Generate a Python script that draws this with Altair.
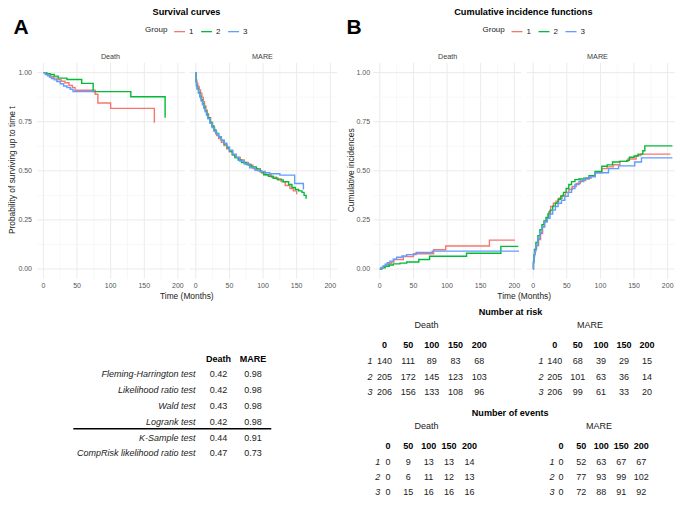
import altair as alt
import pandas as pd

FONT = "Liberation Sans"
GROUPS = ["1", "2", "3"]
COLORS = ["#F8766D", "#00BA38", "#619CFF"]

# ---------------- Panel A, Death (survival) ----------------
a_death_t1 = [0, 3, 7, 11, 15, 20, 26, 32, 38, 43, 47, 77, 81, 100, 165]
a_death_s1 = [1.0, 0.993, 0.986, 0.979, 0.972, 0.964, 0.956, 0.948, 0.935, 0.925, 0.91, 0.89, 0.845, 0.818, 0.745]
a_death_t2 = [0, 5, 10, 16, 22, 35, 57, 74, 130, 181]
a_death_s2 = [1.0, 0.995, 0.99, 0.982, 0.972, 0.965, 0.945, 0.903, 0.877, 0.77]
a_death_t3 = [0, 3, 6, 9, 12, 16, 20, 25, 30, 35, 40, 44, 76]
a_death_s3 = [1.0, 0.99, 0.984, 0.977, 0.97, 0.963, 0.955, 0.943, 0.932, 0.924, 0.915, 0.904, 0.904]

# ---------------- Panel A, MARE (survival) ----------------
a_mare_t1 = [0, 0.5, 1.5, 3, 5, 7, 9, 11, 13, 15, 17, 19, 22, 25, 28, 31, 34, 38, 42, 46, 50, 55, 60, 66,
             72, 78, 85, 92, 98, 104, 112, 120, 127, 133, 140, 145, 150]
a_mare_s1 = [1.0, 0.962, 0.945, 0.93, 0.912, 0.895, 0.875, 0.852, 0.83, 0.808, 0.79, 0.77, 0.745, 0.722,
             0.7, 0.68, 0.664, 0.645, 0.628, 0.612, 0.597, 0.582, 0.568, 0.555, 0.542, 0.528, 0.512, 0.5,
             0.489, 0.48, 0.468, 0.458, 0.445, 0.425, 0.41, 0.398, 0.38]
a_mare_t2 = [0, 0.3, 1, 2, 4, 6, 8, 10, 12, 14, 16, 18, 21, 24, 27, 30, 34, 38, 42, 46, 50, 54, 58, 63, 68,
             75, 82, 90, 96, 101, 108, 115, 122, 130, 138, 143, 148, 153, 158, 161, 164]
a_mare_s2 = [1.0, 0.955, 0.935, 0.92, 0.9, 0.88, 0.862, 0.842, 0.822, 0.805, 0.788, 0.77, 0.748, 0.728,
             0.708, 0.69, 0.672, 0.655, 0.636, 0.618, 0.6, 0.582, 0.568, 0.555, 0.542, 0.532, 0.52, 0.51,
             0.495, 0.48, 0.472, 0.462, 0.454, 0.444, 0.43, 0.415, 0.405, 0.398, 0.39, 0.375, 0.358]
a_mare_t3 = [0, 0.3, 1, 2, 4, 6, 8, 10, 12, 14, 16, 18, 21, 24, 27, 30, 34, 38, 42, 46, 50, 55, 60, 65, 72,
             80, 88, 95, 103, 110, 125, 147, 160]
a_mare_s3 = [1.0, 0.952, 0.93, 0.915, 0.895, 0.875, 0.855, 0.836, 0.818, 0.8, 0.782, 0.765, 0.742, 0.72,
             0.703, 0.688, 0.672, 0.656, 0.64, 0.622, 0.605, 0.585, 0.568, 0.55, 0.535, 0.515, 0.503,
             0.497, 0.49, 0.485, 0.478, 0.435, 0.405]

# ---------------- Panel B, Death (cumulative incidence) ----------------
b_death_t1 = [0, 2, 5, 9, 13, 17, 21, 35, 50, 80, 98, 163, 201]
b_death_c1 = [0, 0.007, 0.014, 0.021, 0.028, 0.036, 0.048, 0.064, 0.078, 0.098, 0.117, 0.147, 0.147]
b_death_t2 = [0, 3, 8, 14, 20, 30, 40, 58, 74, 129, 180, 206]
b_death_c2 = [0, 0.006, 0.014, 0.02, 0.026, 0.03, 0.036, 0.048, 0.065, 0.08, 0.115, 0.115]
b_death_t3 = [0, 2, 5, 8, 11, 15, 20, 25, 33, 40, 54, 78, 207]
b_death_c3 = [0, 0.008, 0.016, 0.024, 0.032, 0.04, 0.05, 0.06, 0.066, 0.073, 0.084, 0.091, 0.091]

# ---------------- Panel B, MARE (cumulative incidence) ----------------
b_mare_t1 = [0, 0.5, 1.5, 3, 5, 8, 11, 14, 17, 20, 23, 26, 30, 34, 38, 43, 48, 53, 58, 64, 70, 78, 86, 92,
             102, 110, 119, 129, 141, 153, 160, 204]
b_mare_c1 = [0, 0.04, 0.075, 0.1, 0.12, 0.15, 0.18, 0.215, 0.24, 0.26, 0.29, 0.318, 0.335, 0.345, 0.36,
             0.375, 0.39, 0.405, 0.42, 0.435, 0.45, 0.462, 0.472, 0.49, 0.511, 0.52, 0.531, 0.548, 0.56,
             0.578, 0.585, 0.585]
b_mare_t2 = [0, 0.3, 1, 2, 4, 7, 10, 13, 16, 19, 22, 25, 29, 33, 37, 41, 45, 49, 53, 57, 62, 68, 75, 83, 92,
             102, 110, 118, 128, 139, 143, 150, 156, 163, 166, 207]
b_mare_c2 = [0, 0.035, 0.07, 0.1, 0.135, 0.17, 0.2, 0.225, 0.245, 0.262, 0.28, 0.3, 0.32, 0.335, 0.355,
             0.372, 0.39, 0.41, 0.43, 0.445, 0.455, 0.458, 0.462, 0.475, 0.497, 0.523, 0.53, 0.545, 0.548,
             0.553, 0.569, 0.575, 0.585, 0.602, 0.627, 0.627]
b_mare_t3 = [0, 0.3, 1, 2, 4, 7, 10, 13, 17, 21, 25, 29, 33, 37, 42, 47, 52, 57, 62, 68, 75, 83, 92, 112,
             127, 151, 161, 207]
b_mare_c3 = [0, 0.03, 0.06, 0.09, 0.12, 0.155, 0.185, 0.215, 0.24, 0.258, 0.28, 0.3, 0.318, 0.335, 0.35,
             0.37, 0.39, 0.41, 0.43, 0.445, 0.458, 0.47, 0.49, 0.511, 0.525, 0.545, 0.566, 0.566]

# ---------------- Axis ticks ----------------
x_major = [0, 50, 100, 150, 200]
x_minor = [25, 75, 125, 175]
y_major = [0.0, 0.25, 0.5, 0.75, 1.0]
y_minor = [0.125, 0.375, 0.625, 0.875]
y_labels = ["0.00", "0.25", "0.50", "0.75", "1.00"]

# ---------------- Test table ----------------
tests = ["Fleming-Harrington test", "Likelihood ratio test", "Wald test", "Logrank test",
         "K-Sample test", "CompRisk likelihood ratio test"]
p_death = [0.42, 0.42, 0.43, 0.42, 0.44, 0.47]
p_mare = [0.98, 0.98, 0.98, 0.98, 0.91, 0.73]

# ---------------- Number at risk / events ----------------
times = [0, 50, 100, 150, 200]
risk_death_1 = [140, 111, 89, 83, 68]
risk_death_2 = [205, 172, 145, 123, 103]
risk_death_3 = [206, 156, 133, 108, 96]
risk_mare_1 = [140, 68, 39, 29, 15]
risk_mare_2 = [205, 101, 63, 36, 14]
risk_mare_3 = [206, 99, 61, 33, 20]
events_death_1 = [0, 9, 13, 13, 14]
events_death_2 = [0, 6, 11, 12, 13]
events_death_3 = [0, 15, 16, 16, 16]
events_mare_1 = [0, 52, 63, 67, 67]
events_mare_2 = [0, 77, 93, 99, 102]
events_mare_3 = [0, 72, 88, 91, 92]

# ================= layout helpers =================
W, H = 667, 488


def X(xr):
    return round((xr - 1.5) * 0.978, 1)


def Y(yr):
    return round((yr - 1.5) * 0.972, 1)


PANEL_W = 137.5  # reference px for 0..200 months
Y_ZERO, Y_ONE = 270, 68
ORIG = {"A_Death": 37.7, "A_MARE": 193.5, "B_Death": 381.7, "B_MARE": 538.5}
GRID_MAJ, GRID_MIN = "#EBEBEB", "#F3F3F3"
TXT = "#222222"
TICK = "#555555"


def xscale(origin):
    return alt.Scale(domain=[0, 200], range=[X(origin), X(origin + PANEL_W)], nice=False, zero=False)


def yscale():
    return alt.Scale(domain=[0, 1], range=[Y(Y_ZERO), Y(Y_ONE)], nice=False, zero=False)


def curve_df(pairs):
    rows = []
    for g, (ts, vs) in zip(GROUPS, pairs):
        for t, v in zip(ts, vs):
            rows.append({"group": g, "time": t, "value": v})
    return pd.DataFrame(rows)


def grid_layers(origin):
    xs, ys = xscale(origin), yscale()
    out = []
    for vals, col, w in [(x_minor, GRID_MIN, 0.7), (x_major, GRID_MAJ, 1.0)]:
        df = pd.DataFrame({"t": vals, "lo": -0.05, "hi": 1.05})
        out.append(alt.Chart(df).mark_rule(color=col, strokeWidth=w).encode(
            x=alt.X("t:Q", scale=xs, axis=None),
            y=alt.Y("lo:Q", scale=ys, axis=None), y2="hi:Q"))
    for vals, col, w in [(y_minor, GRID_MIN, 0.7), (y_major, GRID_MAJ, 1.0)]:
        df = pd.DataFrame({"v": vals, "lo": -9.5, "hi": 210.5})
        out.append(alt.Chart(df).mark_rule(color=col, strokeWidth=w).encode(
            y=alt.Y("v:Q", scale=ys, axis=None),
            x=alt.X("lo:Q", scale=xs, axis=None), x2="hi:Q"))
    return out


def curve_layer(df, origin, legend):
    return alt.Chart(df).mark_line(interpolate="step-after", strokeWidth=1.4).encode(
        x=alt.X("time:Q", scale=xscale(origin), axis=None),
        y=alt.Y("value:Q", scale=yscale(), axis=None),
        color=alt.Color("group:N", scale=alt.Scale(domain=GROUPS, range=COLORS), legend=legend),
    )


def xtick_layer(origin):
    df = pd.DataFrame({"t": x_major, "lab": [str(v) for v in x_major]})
    return alt.Chart(df).mark_text(fontSize=7, color=TICK, baseline="middle").encode(
        x=alt.X("t:Q", scale=xscale(origin), axis=None), y=alt.value(Y(287)), text="lab:N")


def ytick_layer(right_ref):
    df = pd.DataFrame({"v": y_major, "lab": y_labels})
    return alt.Chart(df).mark_text(fontSize=7, color=TICK, baseline="middle", align="right").encode(
        y=alt.Y("v:Q", scale=yscale(), axis=None), x=alt.value(X(right_ref)), text="lab:N")


def note(text, xr, yr, size, weight="normal", color=TXT, angle=0, align="center", style="normal"):
    return alt.Chart(pd.DataFrame({"s": [text]})).mark_text(
        fontSize=size, fontWeight=weight, color=color, angle=angle, align=align,
        baseline="middle", fontStyle=style).encode(
        text="s:N", x=alt.value(X(xr)), y=alt.value(Y(yr)))


def legend_for(left_ref):
    return alt.Legend(
        orient="none", legendX=X(left_ref), legendY=Y(24) - 5, direction="horizontal",
        title="Group", titleOrient="left", titleFontSize=8, titleFontWeight="normal",
        titleColor=TXT, titleFont=FONT, labelFont=FONT, labelFontSize=8, labelColor=TXT,
        symbolType="stroke", symbolSize=120, symbolStrokeWidth=1.3, labelOffset=3,
        columnPadding=4, titlePadding=5)


def count_table(v1, v2, v3, col0, col1, label_x, header_y, row0, row2):
    rows = []
    for g, vals in zip(GROUPS, [v1, v2, v3]):
        for t, v in zip(times, vals):
            rows.append({"group": g, "time": str(t), "n": str(v)})
    df = pd.DataFrame(rows)
    xs = alt.Scale(type="point", domain=[str(t) for t in times], range=[X(col0), X(col1)], padding=0)
    ys = alt.Scale(type="point", domain=GROUPS, range=[Y(row0), Y(row2)], padding=0)
    body = alt.Chart(df).mark_text(fontSize=9, color=TXT, baseline="middle").encode(
        x=alt.X("time:N", scale=xs, axis=None), y=alt.Y("group:N", scale=ys, axis=None), text="n:N")
    header = alt.Chart(pd.DataFrame({"time": [str(t) for t in times]})).mark_text(
        fontSize=9, fontWeight="bold", color="#000000", baseline="middle").encode(
        x=alt.X("time:N", scale=xs, axis=None), y=alt.value(Y(header_y)), text="time:N")
    labels = alt.Chart(pd.DataFrame({"group": GROUPS})).mark_text(
        fontSize=9, fontStyle="italic", color=TXT, baseline="middle").encode(
        x=alt.value(X(label_x)), y=alt.Y("group:N", scale=ys, axis=None), text="group:N")
    return [body, header, labels]


layers = []

# ---- grids ----
for key in ORIG:
    layers += grid_layers(ORIG[key])

# ---- curves ----
layers.append(curve_layer(curve_df([(a_death_t1, a_death_s1), (a_death_t2, a_death_s2),
                                    (a_death_t3, a_death_s3)]), ORIG["A_Death"], legend_for(141.7)))
layers.append(curve_layer(curve_df([(a_mare_t1, a_mare_s1), (a_mare_t2, a_mare_s2),
                                    (a_mare_t3, a_mare_s3)]), ORIG["A_MARE"], None))
layers.append(curve_layer(curve_df([(b_death_t1, b_death_c1), (b_death_t2, b_death_c2),
                                    (b_death_t3, b_death_c3)]), ORIG["B_Death"], legend_for(486.7)))
layers.append(curve_layer(curve_df([(b_mare_t1, b_mare_c1), (b_mare_t2, b_mare_c2),
                                    (b_mare_t3, b_mare_c3)]), ORIG["B_MARE"], None))

# ---- tick labels ----
for key in ORIG:
    layers.append(xtick_layer(ORIG[key]))
layers.append(ytick_layer(26))
layers.append(ytick_layer(371.7))

# ---- annotations: titles, letters, strips, axis titles ----
layers += [
    note("A", 15, 22.5, 21, weight="bold", color="#000000"),
    note("B", 355.5, 22.5, 21, weight="bold", color="#000000"),
    note("Survival curves", 184, 5.5, 9.2, weight="bold", color="#000000"),
    note("Cumulative incidence functions", 528.5, 5.5, 9.2, weight="bold", color="#000000"),
    note("Death", 106.3, 51.7, 7.2, color="#3C3C3C"),
    note("MARE", 261.7, 51.7, 7.2, color="#3C3C3C"),
    note("Death", 451, 51.7, 7.2, color="#3C3C3C"),
    note("MARE", 604.3, 51.7, 7.2, color="#3C3C3C"),
    note("Time (Months)", 184.3, 297.7, 8.4),
    note("Time (Months)", 529.3, 297.7, 8.4),
    note("Probability of surviving up to time t", 5.5, 168.5, 8.4, angle=270),
    note("Cumulative incidences", 351.7, 168.5, 8.4, angle=270),
]

# ---- test table ----
test_rows = []
for name, d, m in zip(tests, p_death, p_mare):
    test_rows.append({"test": name, "event": "Death", "p": f"{d:.2f}"})
    test_rows.append({"test": name, "event": "MARE", "p": f"{m:.2f}"})
test_df = pd.DataFrame(test_rows)
t_xs = alt.Scale(type="point", domain=["Death", "MARE"], range=[X(216.7), X(252)], padding=0)
t_ys = alt.Scale(type="point", domain=tests, range=[Y(378.3), Y(459.7)], padding=0)
layers += [
    alt.Chart(test_df).mark_text(fontSize=9, color=TXT, baseline="middle").encode(
        x=alt.X("event:N", scale=t_xs, axis=None), y=alt.Y("test:N", scale=t_ys, axis=None), text="p:N"),
    alt.Chart(pd.DataFrame({"event": ["Death", "MARE"]})).mark_text(
        fontSize=9, fontWeight="bold", color="#000000", baseline="middle").encode(
        x=alt.X("event:N", scale=t_xs, axis=None), y=alt.value(Y(362.7)), text="event:N"),
    alt.Chart(pd.DataFrame({"test": tests})).mark_text(
        fontSize=9, fontStyle="italic", color=TXT, baseline="middle", align="right").encode(
        x=alt.value(X(193.3)), y=alt.Y("test:N", scale=t_ys, axis=None), text="test:N"),
    alt.Chart(pd.DataFrame({"k": [1]})).mark_rule(color="#000000", strokeWidth=1.5).encode(
        x=alt.value(X(68.3)), x2=alt.value(X(270.7)), y=alt.value(Y(434.3))),
]

# ---- number at risk ----
layers += [
    note("Number at risk", 515.3, 314.3, 9.1, weight="bold", color="#000000"),
    note("Death", 429.3, 327.7, 9),
    note("MARE", 596.7, 327.7, 9),
]
layers += count_table(risk_death_1, risk_death_2, risk_death_3, 386.5, 483.3, 371.5, 347.7, 365, 396.7)
layers += count_table(risk_mare_1, risk_mare_2, risk_mare_3, 560.5, 655, 546.5, 347.7, 365, 396.7)

# ---- number of events ----
layers += [
    note("Number of events", 515, 418.3, 9.1, weight="bold", color="#000000"),
    note("Death", 429.3, 431.7, 9),
    note("MARE", 605.7, 431.7, 9),
]
layers += count_table(events_death_1, events_death_2, events_death_3, 390, 473.3, 379.5, 451.7, 468.3, 499.3)
layers += count_table(events_mare_1, events_mare_2, events_mare_3, 567, 649, 557.7, 451.7, 468.3, 499.3)

chart = alt.layer(*layers).resolve_scale(
    x="independent", y="independent", color="independent"
).properties(
    width=W, height=H, padding=0, autosize=alt.AutoSizeParams(type="none")
).configure(font=FONT).configure_view(stroke=None)

chart.save("out.html", embed_options={"renderer": "svg", "actions": False})
